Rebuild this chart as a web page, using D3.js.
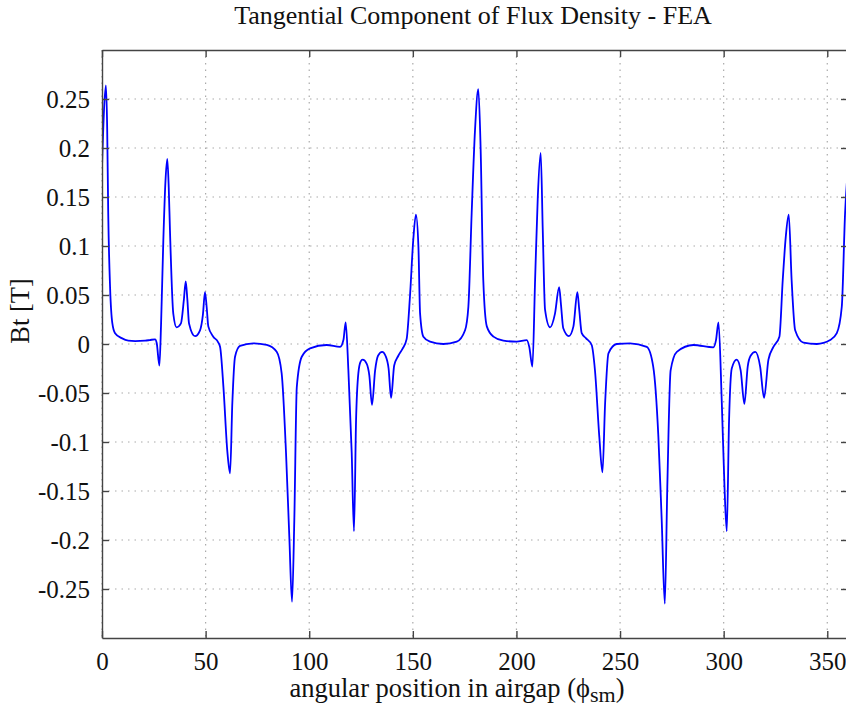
<!DOCTYPE html>
<html>
<head>
<meta charset="utf-8">
<script src="https://cdn.jsdelivr.net/npm/d3@7"></script>
<style>
  body { margin: 0; background: #fff; }
  text { font-family: "Liberation Serif", "Times New Roman", serif; fill: #111; }
  .grid line { stroke: #aaa; stroke-width: 1.2; stroke-dasharray: 1.5,5; }
  .axis path, .axis line { stroke: #444; stroke-width: 1.4; }
</style>
</head>
<body>
<div id="chart"></div>
<script>
// angular position (deg)
var angle = [0, 1.0, 1.9, 2.5, 3.0, 3.9, 5.0, 6.3, 9.5, 12.7, 16, 20.8, 23, 25.6, 26.4, 27.7, 28.5, 29.6, 30.6, 31.5,
  32.2, 32.8, 34.4, 36.0, 38.1, 39.5, 40.4, 41.2, 42.0, 44.9, 47.3, 48.7, 49.7, 50.5, 51.3, 53.7, 56, 57, 58.6, 60.5,
  61.8, 62.9, 64.2, 66.6, 73, 79.5, 84.3, 86.7, 88.8, 90.4, 91.7, 92.8, 94.0, 96.4, 100.4, 108.4, 114.9, 116.5, 117.6, 118.9,
  120.5, 121.6, 122.6, 123.7, 124.8, 125.8, 127.7, 129.0, 130.3, 131.8, 133.2, 135.2, 136.8, 138.3, 139.5, 141, 143, 145, 147, 148.6,
  150.2, 151.5, 152.7, 153.5, 155.1, 158.3, 164.7, 171.2, 175.2, 176.8, 178.4, 180.0, 181.6, 182.7, 184.0, 185.7, 188.9, 193.7, 200.1, 205,
  206.2, 207.7, 209.0, 210.3, 211.7, 212.7, 213.8, 216.2, 218.6, 220.6, 221.5, 222.6, 225.3, 227.5, 229.4, 230.3, 231.5, 233.5, 236.3, 237.9,
  240.0, 241.5, 242.8, 244.4, 248.4, 254.8, 262.9, 266, 268.5, 270.1, 271.6, 272.8, 274.4, 277.4, 285.4, 295, 296.3, 297.5, 299.1, 300.4,
  301.5, 302.6, 303.9, 306.3, 308.2, 310.0, 311.6, 313, 315.3, 317.6, 319.5, 321.6, 324, 326.9, 328.5, 330, 331.4, 332.8, 334.5, 338.5,
  344.9, 351.4, 354.6, 357, 358.6, 360];

// tangential flux density Bt [T]
var bt = [0.18, 0.24, 0.264, 0.22, 0.134, 0.058, 0.021, 0.011, 0.006, 0.0034, 0.003, 0.0034, 0.004, 0.0048, 0.001, -0.022, 0.02, 0.106, 0.165, 0.189,
  0.16, 0.116, 0.031, 0.017, 0.021, 0.045, 0.064, 0.045, 0.021, 0.008, 0.014, 0.03, 0.053, 0.038, 0.018, 0.0075, 0.002, -0.003, -0.044, -0.11,
  -0.132, -0.06, -0.013, -0.002, 0.0007, -0.001, -0.008, -0.03, -0.111, -0.197, -0.263, -0.18, -0.044, -0.013, -0.0044, -0.001, -0.003, 0.004, 0.022, -0.027,
  -0.111, -0.191, -0.078, -0.03, -0.018, -0.016, -0.02, -0.032, -0.062, -0.027, -0.012, -0.008, -0.012, -0.025, -0.055, -0.022, -0.012, -0.005, 0.005, 0.048,
  0.106, 0.132, 0.099, 0.031, 0.0075, 0.0024, 0.0, 0.0024, 0.014, 0.038, 0.134, 0.218, 0.26, 0.201, 0.065, 0.018, 0.0075, 0.0034, 0.0024, 0.004,
  -0.003, -0.023, 0.065, 0.15, 0.195, 0.116, 0.035, 0.017, 0.031, 0.058, 0.04, 0.016, 0.008, 0.018, 0.053, 0.035, 0.011, 0.006, -0.001, -0.027,
  -0.095, -0.131, -0.06, -0.0095, 0, 0.0007, -0.003, -0.023, -0.095, -0.18, -0.265, -0.146, -0.027, -0.008, -0.001, -0.0034, 0.004, 0.022, -0.06, -0.146,
  -0.191, -0.078, -0.025, -0.016, -0.027, -0.061, -0.023, -0.012, -0.008, -0.023, -0.055, -0.016, -0.003, 0.0075, 0.065, 0.11, 0.132, 0.065, 0.014, 0.0014,
  0, 0.004, 0.011, 0.038, 0.134, 0.18];

var xTicks = [0, 50, 100, 150, 200, 250, 300, 350];
var yTicks = [-0.25, -0.2, -0.15, -0.1, -0.05, 0, 0.05, 0.1, 0.15, 0.2, 0.25];
var yTickLabels = ["-0.25", "-0.2", "-0.15", "-0.1", "-0.05", "0", "0.05", "0.1", "0.15", "0.2", "0.25"];

var W = 846, H = 709;
var margin = {top: 50, right: -2, bottom: 71, left: 102};
var width = W - margin.left - margin.right;
var height = H - margin.top - margin.bottom;

var x = d3.scaleLinear().domain([0, 360]).range([0, width]);
var y = d3.scaleLinear().domain([-0.3, 0.3]).range([height, 0]);

var svg = d3.select("#chart").append("svg")
    .attr("width", W)
    .attr("height", H)
    .style("display", "block");

svg.append("rect").attr("width", W).attr("height", H).attr("fill", "#fff");

var g = svg.append("g")
    .attr("transform", "translate(" + margin.left + "," + margin.top + ")");

// dotted grid
g.append("g").attr("class", "grid")
  .selectAll("line").data(xTicks).enter().append("line")
    .attr("x1", function(d){ return x(d); }).attr("x2", function(d){ return x(d); })
    .attr("y1", 0).attr("y2", height);
g.append("g").attr("class", "grid")
  .selectAll("line").data(yTicks).enter().append("line")
    .attr("x1", 0).attr("x2", width)
    .attr("y1", function(d){ return y(d); }).attr("y2", function(d){ return y(d); });

g.append("clipPath").attr("id", "clip")
  .append("rect").attr("width", width).attr("height", height);

var pts = angle.map(function(a, i){ return [a, bt[i]]; });

var valueline = d3.line()
    .x(function(d){ return x(d[0]); })
    .y(function(d){ return y(d[1]); })
    .curve(d3.curveMonotoneX);

g.append("path")
    .attr("clip-path", "url(#clip)")
    .attr("d", valueline(pts))
    .attr("fill", "none")
    .attr("stroke", "#0000ff")
    .attr("stroke-width", 1.8)
    .attr("stroke-linejoin", "round");

// axes, ticks pointing inwards on all four sides
var fmtY = function(d){ return yTickLabels[yTicks.indexOf(d)]; };

var xAxis = g.append("g").attr("class", "axis")
    .attr("transform", "translate(0," + height + ")")
    .call(d3.axisBottom(x).tickValues(xTicks).tickSize(-7).tickPadding(14).tickSizeOuter(0));
var yAxis = g.append("g").attr("class", "axis")
    .call(d3.axisLeft(y).tickValues(yTicks).tickFormat(fmtY).tickSize(-7).tickPadding(12).tickSizeOuter(0));
g.append("g").attr("class", "axis")
    .call(d3.axisTop(x).tickValues(xTicks).tickSize(-7).tickFormat("").tickSizeOuter(0));
g.append("g").attr("class", "axis")
    .attr("transform", "translate(" + width + ",0)")
    .call(d3.axisRight(y).tickValues(yTicks).tickSize(-7).tickFormat("").tickSizeOuter(0));

svg.selectAll(".axis text")
    .style("font-family", "'Liberation Serif', serif")
    .style("font-size", "25px")
    .attr("fill", "#111");

// titles
svg.append("text")
    .attr("x", margin.left + width / 2 - 2)
    .attr("y", 24)
    .attr("text-anchor", "middle")
    .style("font-size", "26px")
    .text("Tangential Component of Flux Density - FEA");

var xl = svg.append("text")
    .attr("x", margin.left + width / 2 - 18)
    .attr("y", 697)
    .attr("text-anchor", "middle")
    .style("font-size", "26.5px");
xl.append("tspan").text("angular position in airgap (");
xl.append("tspan").text("\u03d5");
xl.append("tspan").attr("dy", 5).style("font-size", "22px").text("sm");
xl.append("tspan").attr("dy", -5).text(")");

svg.append("text")
    .attr("transform", "translate(29,311) rotate(-90)")
    .attr("text-anchor", "middle")
    .style("font-size", "26.5px")
    .text("Bt [T]");
</script>
</body>
</html>
